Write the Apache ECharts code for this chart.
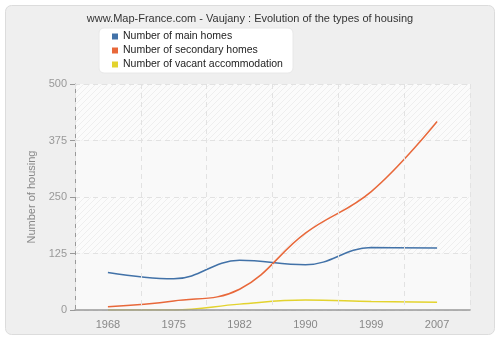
<!DOCTYPE html>
<html><head><meta charset="utf-8">
<script src="https://cdn.jsdelivr.net/npm/echarts@6/dist/echarts.min.js"></script>
<style>html,body{margin:0;padding:0;background:#fff}#c{width:500px;height:340px}</style>
</head><body><div id="c"></div>
<script>
const categories = ['1968','1975','1982','1990','1999','2007'];
const mainHomes = [83, 69, 110, 100, 138, 137];
const secondaryHomes = [7, 20, 46, 170, 262, 417];
const vacant = [0, 0, 13, 22, 19, 17];
const yTicks = [0, 125, 250, 375, 500];
const seriesNames = ['Number of main homes','Number of secondary homes','Number of vacant accommodation'];
const colors = ['#4272a8','#e8683a','#e3d32e'];

function hatch(bg, line) {
  const c = document.createElement('canvas');
  c.width = 6; c.height = 6;
  const g = c.getContext('2d');
  g.fillStyle = bg; g.fillRect(0,0,6,6);
  g.strokeStyle = line; g.lineWidth = 1;
  g.beginPath(); g.moveTo(0,6); g.lineTo(6,0); g.stroke();
  g.beginPath(); g.moveTo(-1,1); g.lineTo(1,-1); g.stroke();
  g.beginPath(); g.moveTo(5,7); g.lineTo(7,5); g.stroke();
  return c;
}
const chart = echarts.init(document.getElementById('c'), null, {renderer:'canvas'});
const font = 'Liberation Sans';
chart.setOption({
  animation:false,
  backgroundColor:'#ffffff',
  textStyle:{fontFamily:font},
  graphic:[
    {type:'rect', shape:{x:5.5,y:5.5,width:489,height:329,r:6}, style:{fill:'#efefef', stroke:'#dcdcdc', lineWidth:1}, z:-10},
    {type:'rect', shape:{x:99,y:28,width:194,height:45,r:5}, style:{fill:'#ffffff', stroke:'#e8e8e8', lineWidth:1}, z:-5}
  ],
  title:{text:'www.Map-France.com - Vaujany : Evolution of the types of housing', left:'center', top:8,
    textStyle:{fontSize:11, fontWeight:'normal', color:'#333', fontFamily:font}},
  legend:{orient:'vertical', left:107, top:26, itemWidth:6, itemHeight:6, itemGap:3, icon:'rect',
    textStyle:{fontSize:10.5, color:'#222', fontFamily:font, padding:[0,0,0,0]},
    data:seriesNames.map((n,i)=>({name:n, itemStyle:{color:colors[i]}}))},
  grid:{left:75, right:30, top:84, bottom:30},
  xAxis:{type:'category', data:categories, boundaryGap:true, z:5,
    axisLine:{lineStyle:{color:'#999', width:1.5}},
    axisTick:{alignWithLabel:true, length:6, lineStyle:{color:'#999'}, interval:0},
    axisLabel:{color:'#888', fontSize:11, margin:9, fontFamily:font},
    splitLine:{show:true, interval:0, lineStyle:{color:'#e2e2e2', type:[5,4]}}},
  yAxis:{type:'value', min:0, max:500, interval:125,
    name:'Number of housing', nameLocation:'middle', nameGap:30, nameRotate:90,
    nameTextStyle:{color:'#888', fontSize:11, fontFamily:font},
    axisLine:{show:true, lineStyle:{color:'#999'}},
    axisTick:{show:true, length:5, lineStyle:{color:'#999'}},
    axisLabel:{color:'#999', fontSize:11, margin:8, fontFamily:font, formatter:v=>yTicks.includes(v)?String(v):''},
    splitLine:{lineStyle:{color:'#e2e2e2', type:[5,4]}},
    splitArea:{show:true, areaStyle:{color:[
      {image:hatch('#f9f9f9','#f9f9f9'), repeat:'repeat'},
      {image:hatch('#fbfbfb','#eeeeee'), repeat:'repeat'}]}}},
  series:[
    {name:seriesNames[0], type:'line', data:mainHomes, smooth:0.4, symbol:'none', lineStyle:{width:1.5, color:colors[0]}, itemStyle:{color:colors[0]}},
    {name:seriesNames[1], type:'line', data:secondaryHomes, smooth:0.4, symbol:'none', lineStyle:{width:1.5, color:colors[1]}, itemStyle:{color:colors[1]}},
    {name:seriesNames[2], type:'line', data:vacant, smooth:0.4, symbol:'none', lineStyle:{width:1.5, color:colors[2]}, itemStyle:{color:colors[2]}}
  ]
});
</script></body></html>
